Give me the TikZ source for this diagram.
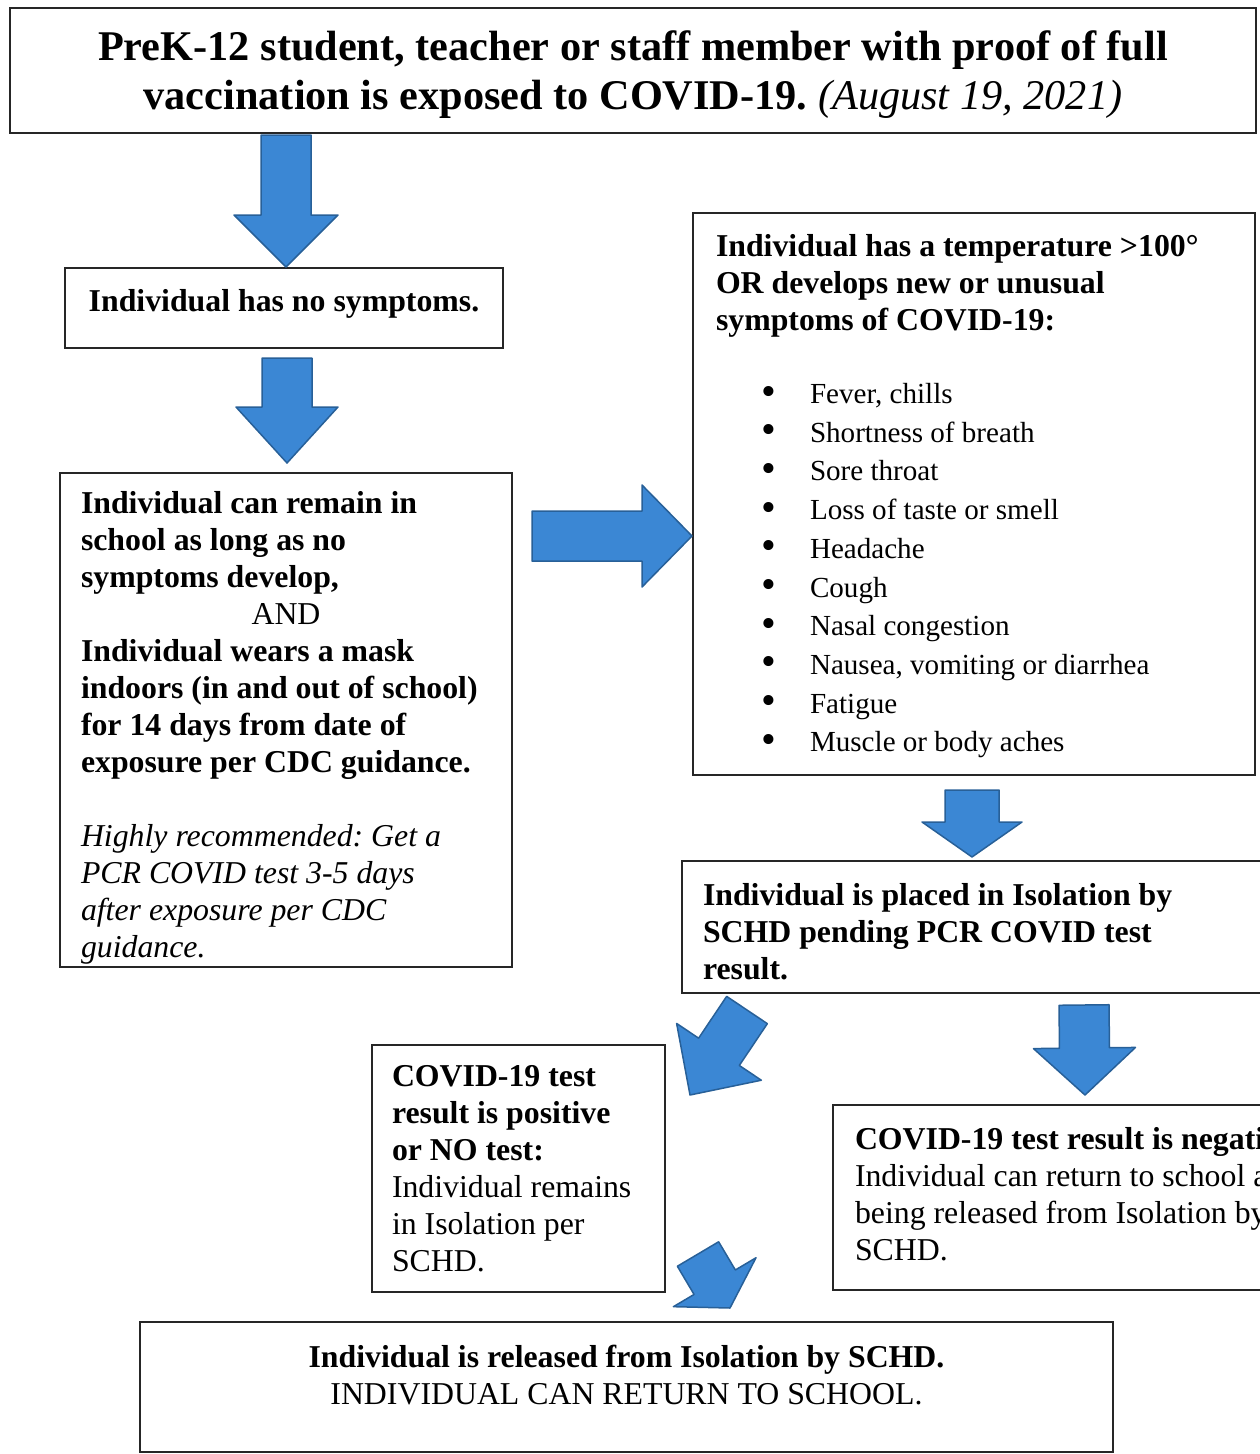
\documentclass[tikz,border=0pt]{standalone}
\usepackage{fontspec}
\setmainfont{Liberation Serif}
\usetikzlibrary{calc}
\frenchspacing

\newcommand{\titlesize}{\fontsize{42.3}{48}\selectfont}
\newcommand{\boxsize}{\fontsize{31.8}{37}\selectfont}
\newcommand{\listsize}{\fontsize{29.1}{38.7}\selectfont}
\newcommand{\sym}[1]{\hspace*{45pt}\makebox[49pt][l]{\raisebox{-1.5pt}{\scalebox{1.45}{\textbullet}}}#1}
\newcommand{\topgap}[1]{\rule{0pt}{#1pt}}
\newcommand{\bluearrow}[5]{%
  \coordinate (hb) at ($(#2)!#5pt!(#1)$);
  \draw [barrow] ($(#1)!#3pt!90:(#2)$) -- ($(hb)!#3pt!90:(#2)$) -- ($(hb)!#4pt!90:(#2)$)
    -- (#2) -- ($(hb)!#4pt!-90:(#2)$) -- ($(hb)!#3pt!-90:(#2)$) -- ($(#1)!#3pt!-90:(#2)$) -- cycle;}

\definecolor{arrowblue}{RGB}{59,135,212}
\definecolor{arrowedge}{RGB}{40,96,152}

\tikzset{
  box/.style={draw=black!85, line width=1.6pt, rectangle, font=\boxsize, align=flush left, inner ysep=0pt},
  barrow/.style={fill=arrowblue, draw=arrowedge, line width=1.5pt, line join=round}
}

\begin{document}
\begin{tikzpicture}[x=1pt,y=-1pt]
    \useasboundingbox (0,0) rectangle (1260,1454);
    \clip (0,0) rectangle (1260,1454);
    \node [box, font=\titlesize, align=flush center, minimum width=1246pt, minimum height=125pt, text width=1206pt, inner xsep=20pt] (top) at (633,70.5)
      {\bfseries \topgap{38}PreK-12 student, teacher or staff member with proof of full\\
       vaccination is exposed to COVID-19. {\mdseries\itshape (August 19, 2021)}};
    \node [box, minimum width=438pt, minimum height=80pt] (nosym) at (284,308)
      {\bfseries Individual has no symptoms.\rule[-15pt]{0pt}{15pt}};
    \node [box, minimum height=494pt, text width=410pt, inner xsep=21pt] (remain) at (286,720)
      {{\bfseries \topgap{37}Individual can remain in\\ school as long as no\\ symptoms develop,}\\
       \makebox[410pt]{AND}\\
       {\bfseries Individual wears a mask\\ indoors (in and out of school)\\ for 14 days from date of\\ exposure per CDC guidance.}\\[37pt]
       {\itshape Highly recommended: Get a\\ PCR COVID test 3-5 days\\ after exposure per CDC\\ guidance.}};
    \node [box, minimum height=562pt, text width=516pt, inner xsep=23pt] (symp) at (974,494)
      {{\bfseries \topgap{27}Individual has a temperature >100°\\ OR develops new or unusual\\ symptoms of COVID-19:\par}
       \vspace{34pt}
       {\listsize \sym{Fever, chills}\\ \sym{Shortness of breath}\\ \sym{Sore throat}\\ \sym{Loss of taste or smell}\\
        \sym{Headache}\\ \sym{Cough}\\ \sym{Nasal congestion}\\ \sym{Nausea, vomiting or diarrhea}\\
        \sym{Fatigue}\\ \sym{Muscle or body aches}\par}};
    \node [box, minimum height=132pt, text width=596pt, inner xsep=21pt] (isol) at (1001,927)
      {\bfseries \topgap{32}Individual is placed in Isolation by\\ SCHD pending PCR COVID test\\ result.};
    \node [box, minimum height=247pt, text width=253pt, inner xsep=20pt] (pos) at (518.5,1168.5)
      {{\bfseries COVID-19 test\\ result is positive\\ or NO test:}\\ Individual remains\\ in Isolation per\\ SCHD.};
    \node [box, minimum height=185pt, text width=543pt, inner xsep=22pt] (neg) at (1126.5,1197.5)
      {{\bfseries COVID-19 test result is negative:}\\ Individual can return to school after\\ being released from Isolation by\\ SCHD.\rule[-8pt]{0pt}{8pt}};
    \node [box, align=flush center, minimum width=973pt, minimum height=130pt, text width=933pt, inner xsep=20pt] (done) at (626.5,1387)
      {{\bfseries \topgap{30}Individual is released from Isolation by SCHD.}\\ INDIVIDUAL CAN RETURN TO SCHOOL.\rule[-32pt]{0pt}{32pt}};
    \coordinate (t1) at (286,135);   \coordinate (p1) at (286,267);
    \coordinate (t2) at (287,358);   \coordinate (p2) at (287,463);
    \coordinate (t3) at (532,536);   \coordinate (p3) at (692,536);
    \coordinate (t4) at (972,790);   \coordinate (p4) at (972,857);
    \coordinate (t5) at (747,1010);  \coordinate (p5) at (690,1095);
    \coordinate (t6) at (1084,1005); \coordinate (p6) at (1085,1095);
    \coordinate (t7) at (698,1254);  \coordinate (p7) at (730,1308);
    \bluearrow{t1}{p1}{25}{52}{52}
    \bluearrow{t2}{p2}{25}{51}{56}
    \bluearrow{t3}{p3}{25}{51}{50}
    \bluearrow{t4}{p4}{27}{50}{35}
    \bluearrow{t5}{p5}{24.5}{51}{52}
    \bluearrow{t6}{p6}{25}{51}{47}
    \bluearrow{t7}{p7}{24}{48}{30}
  \end{tikzpicture}
\end{document}
